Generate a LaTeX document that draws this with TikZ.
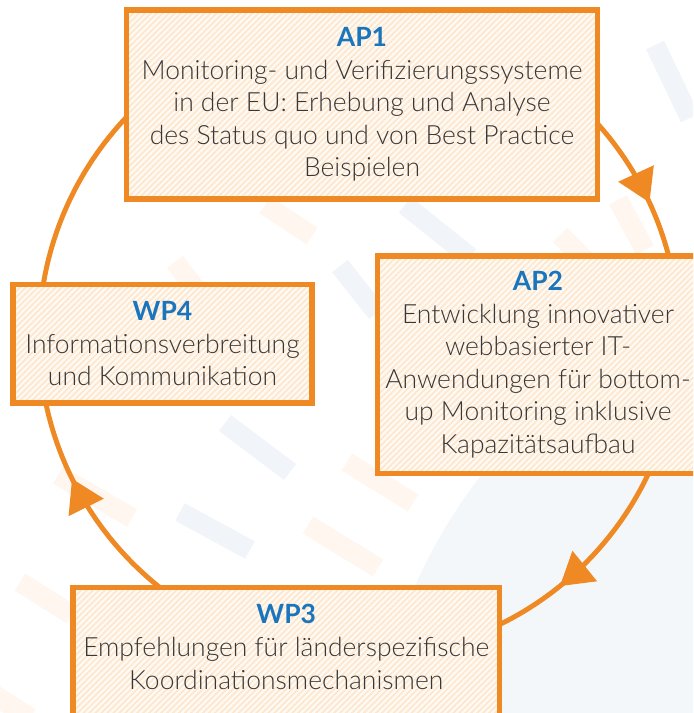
\documentclass[tikz,border=0pt]{standalone}
\usepackage{fontspec}
\setmainfont{Lato}[UprightFont=* Light,BoldFont=* Bold]
\usepackage{tikz}
\usetikzlibrary{arrows.meta}
\usetikzlibrary{patterns.meta}
\usetikzlibrary{decorations.markings}

\definecolor{apOrange}{RGB}{238,137,35}
\definecolor{apBlue}{RGB}{27,117,188}
\definecolor{apText}{RGB}{55,55,55}
\definecolor{apCream}{RGB}{255,250,244}
\definecolor{apStripe}{RGB}{253,231,206}
\definecolor{bgBlue}{RGB}{244,247,250}
\definecolor{bgDashO}{RGB}{254,246,239}
\definecolor{bgDashB}{RGB}{241,245,250}

\newcommand{\aptitle}[1]{{\bfseries\color{apBlue}#1}}

\begin{document}
\begin{tikzpicture}[x=0.03cm,y=0.03cm,
    box/.style={draw=apOrange,line width=4.5pt,preaction={fill=apCream},
        pattern={Lines[angle=45,distance=3.6pt,line width=1.5pt]},pattern color=apStripe,
        align=center,text=apText,font=\fontsize{22.6}{27.8}\selectfont,inner sep=0pt},
    ring/.style={draw=apOrange,line width=4.2pt,postaction={decorate},
        decoration={markings,
            mark=at position 0.142 with {\arrow{Triangle[length=0.96cm,width=1.14cm]}},
            mark=at position 0.427 with {\arrow{Triangle[length=0.96cm,width=1.14cm]}},
            mark=at position 0.931 with {\arrow{Triangle[length=0.96cm,width=1.14cm]}}}},
    bgdash/.style={line width=0.6cm}]

    \useasboundingbox (0,0) rectangle (693,713);
    \clip (0,0) rectangle (693,713);

    % background
    \fill[bgBlue] (900,-87) circle[radius=530];
    \draw[bgdash,bgDashO] (265,508) -- (312,477);
    \draw[bgdash,bgDashB] (340,447) -- (377,400);
    \draw[bgdash,bgDashB] (225,290) -- (290,241);
    \draw[bgdash,bgDashB] (180,201) -- (250,163);
    \draw[bgdash,bgDashO] (347,251) -- (413,210);
    \draw[bgdash,bgDashO] (308,188) -- (378,145);
    \draw[bgdash,bgDashB] (405,508) -- (470,456);
    \draw[bgdash,bgDashO] (175,451) -- (208,408);
    \draw[bgdash,bgDashO] (58,238) -- (132,195);
    \draw[bgdash,bgDashO] (20,131) -- (72,98);
    \draw[bgdash,bgDashO] (-10,21) -- (30,-5);
    \draw[bgdash,bgDashB] (655,668) -- (690,595);
    \draw[bgdash,bgDashO] (618,513) -- (645,463);
    \draw[bgdash,bgDashO] (560,478) -- (590,448);

    % cycle
    \coordinate (C) at (359,376);
    \draw[ring] (C) ++(0:320) arc[start angle=0,end angle=-360,radius=320];

    \node[box,minimum width=14.13cm,minimum height=5.67cm] (AP1) at (362,608.5)
        {\aptitle{AP1}\\Monitoring- und Verifizierungssysteme\\in der EU: Erhebung und Analyse\\des Status quo und von Best Practice\\Beispielen};
    \node[box,minimum width=9.63cm,minimum height=6.525cm] (AP2) at (538,348.25)
        {\aptitle{AP2}\\Entwicklung innovativer\\webbasierter IT-\\Anwendungen für bottom-\\up Monitoring inklusive\\Kapazitätsaufbau};
    \node[box,minimum width=12.795cm,minimum height=3.855cm,text depth=8.5pt] (WP3) at (286.25,61.25)
        {\aptitle{WP3}\\Empfehlungen für länderspezifische\\Koordinationsmechanismen};
    \node[box,minimum width=8.97cm,minimum height=3.555cm] (WP4) at (162.5,369.25)
        {\aptitle{WP4}\\Informationsverbreitung\\und Kommunikation};

\end{tikzpicture}
\end{document}
